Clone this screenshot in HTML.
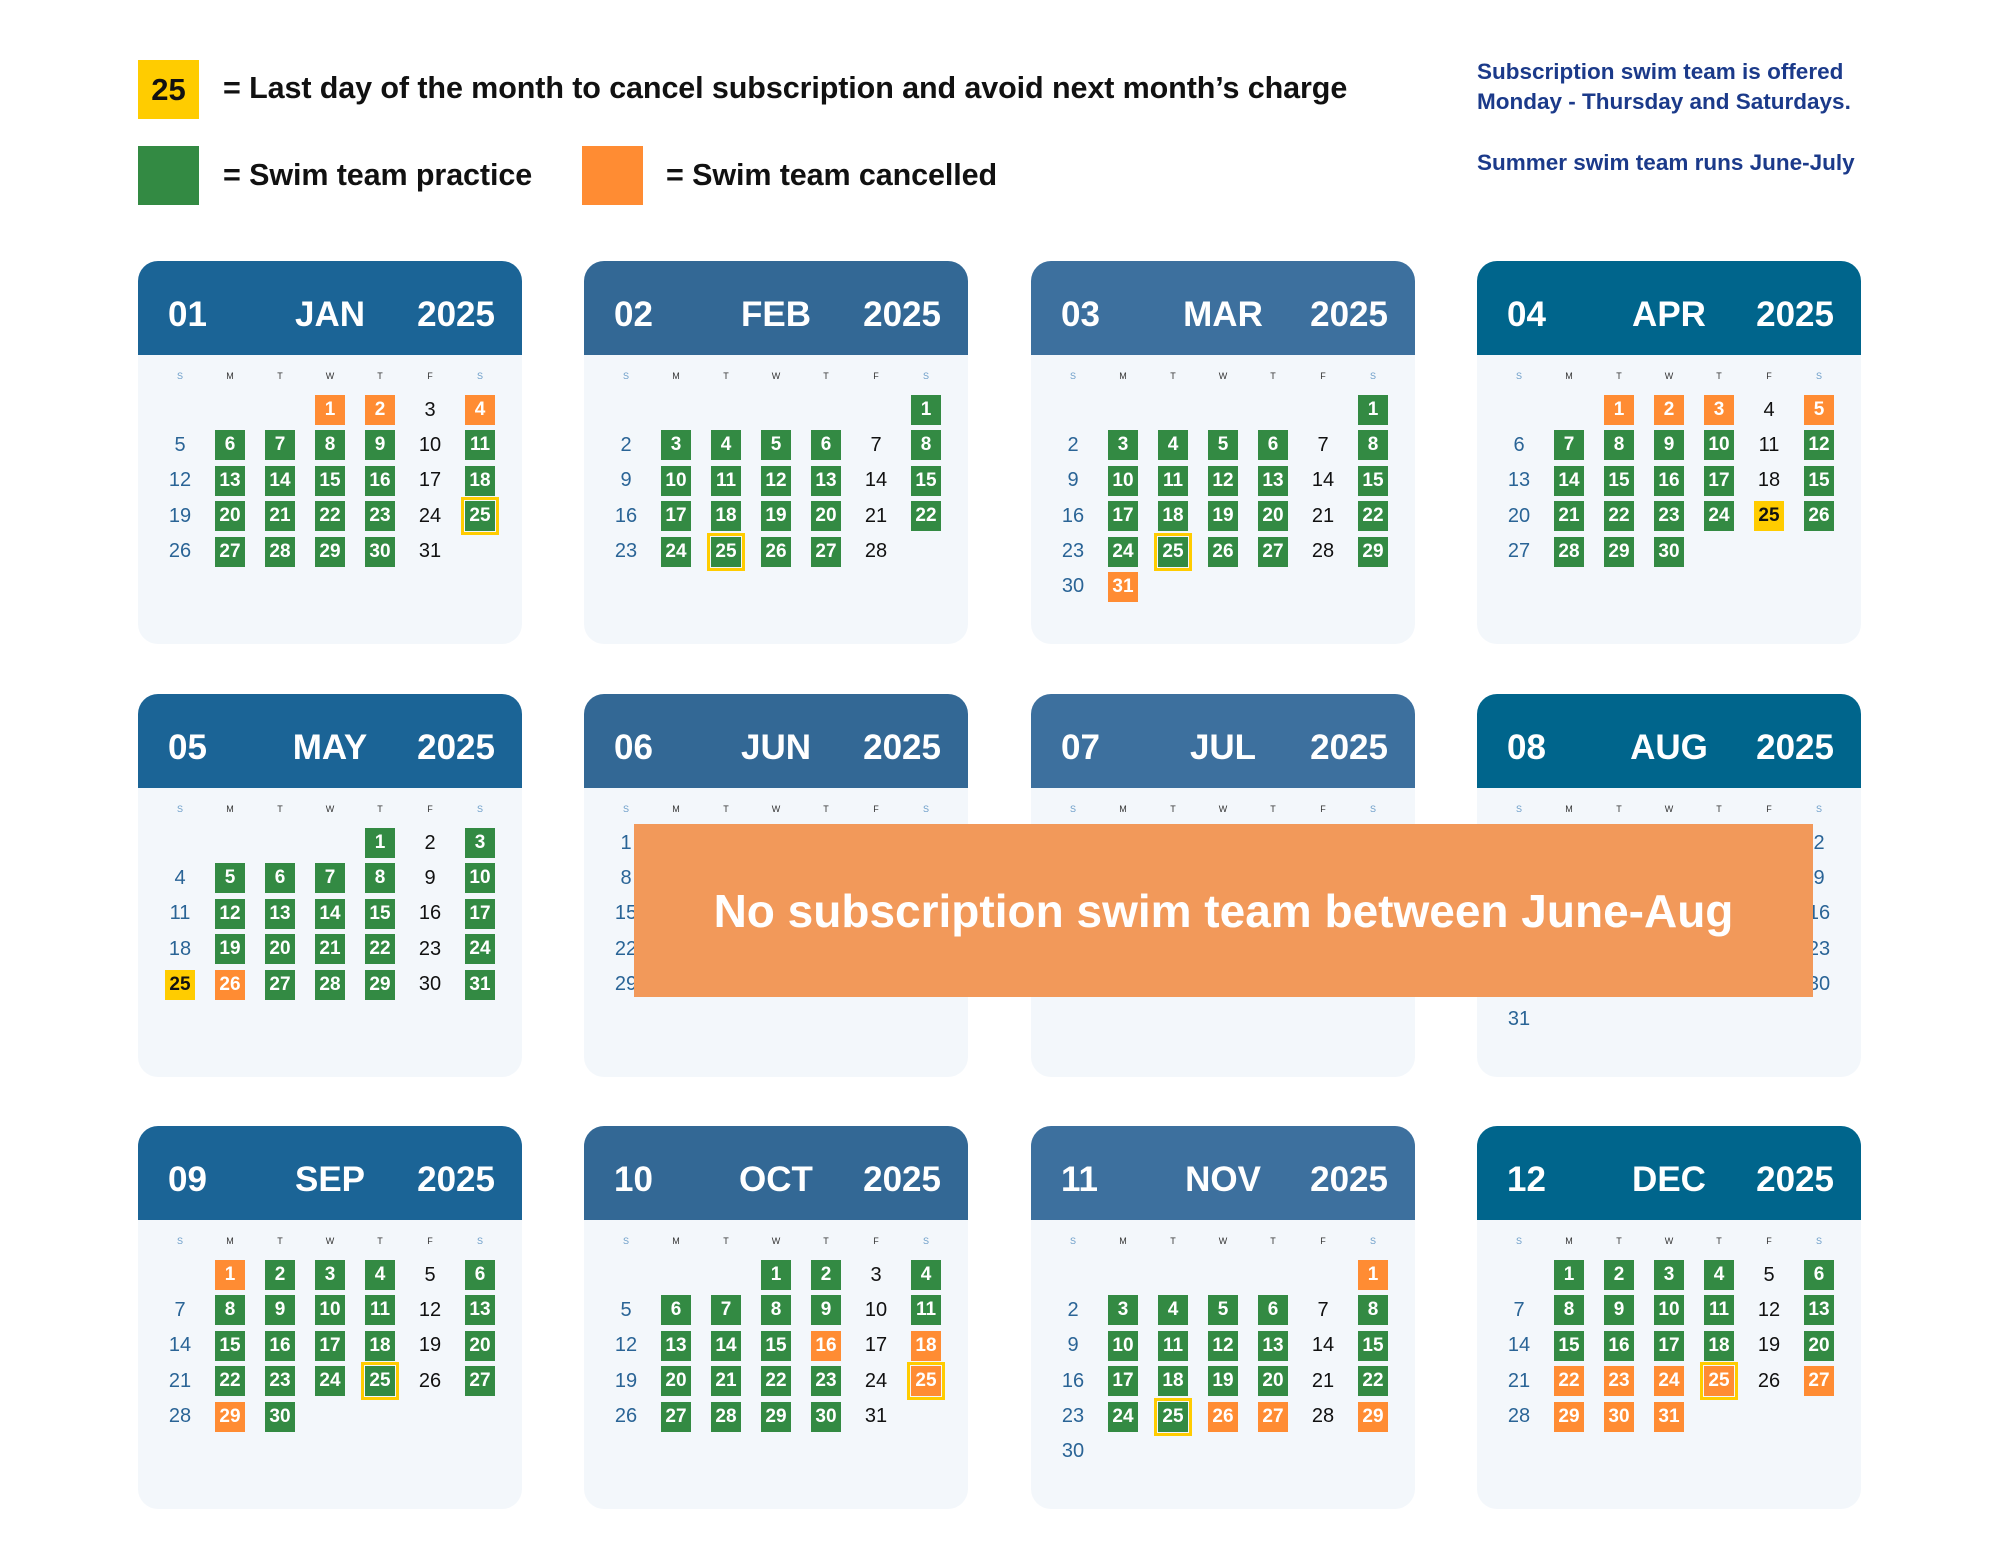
<!DOCTYPE html><html><head><meta charset="utf-8"><style>
body{margin:0;width:2000px;height:1545px;background:#fff;position:relative;font-family:"Liberation Sans",sans-serif;overflow:hidden}
.lg{position:absolute;font-weight:bold;font-size:30.5px;color:#111;letter-spacing:-0.1px}
.sq{position:absolute;width:61px;height:59px}
.rt{position:absolute;left:1477px;font-weight:bold;font-size:22.5px;color:#1b3a8a;white-space:nowrap}
.c{position:absolute;width:384px;height:383px;background:#f3f7fb;border-radius:20px;overflow:hidden}
.h{height:94px;color:#fff;font-weight:bold;font-size:35px;position:relative}
.h span{position:absolute;top:34px}
.h .a{left:30px}.h .m{left:0;width:384px;text-align:center}.h .y{right:27px}
.wd{position:absolute;top:110px;left:27px;display:grid;grid-template-columns:repeat(7,30px);column-gap:20px;font-size:9px;color:#333;text-align:center}
.wd i:first-child,.wd i:last-child{color:#6a9cc8}
.wd i{font-style:normal}
.d{position:absolute;top:134px;left:27px;display:grid;grid-template-columns:repeat(7,30px);grid-auto-rows:30px;column-gap:20px;row-gap:5.4px}
.d b{display:flex;align-items:center;justify-content:center;font-weight:normal;font-size:20px;color:#111}
.d b:nth-child(7n+1),.d b:nth-child(7n){color:#2a6496}
.d b.g{background:#338a43;color:#fff!important;font-weight:bold;font-size:19px}
.d b.o{background:#ff8c33;color:#fff!important;font-weight:bold;font-size:19px}
.d b.y{background:#ffcc00;color:#111!important;font-weight:bold;font-size:19px}
.d b.G{background:#338a43;color:#fff!important;font-weight:bold;font-size:19px;outline:3px solid #ffcc00;outline-offset:1px}
.d b.O{background:#ff8c33;color:#fff!important;font-weight:bold;font-size:19px;outline:3px solid #ffcc00;outline-offset:1px}
.c1 .h{background:#1b6496}.c2 .h{background:#336895}.c3 .h{background:#3d709e}.c4 .h{background:#00658c}
</style></head><body>
<div class="sq" style="left:138px;top:60px;background:#ffcc00;font-weight:bold;font-size:31px;display:flex;align-items:center;justify-content:center;color:#111">25</div>
<div class="lg" style="left:223px;top:71px">= Last day of the month to cancel subscription and avoid next month’s charge</div>
<div class="sq" style="left:138px;top:146px;background:#338a43"></div>
<div class="lg" style="left:223px;top:158px">= Swim team practice</div>
<div class="sq" style="left:582px;top:146px;background:#ff8c33"></div>
<div class="lg" style="left:666px;top:158px">= Swim team cancelled</div>
<div class="rt" style="top:59px">Subscription swim team is offered</div>
<div class="rt" style="top:89px">Monday - Thursday and Saturdays.</div>
<div class="rt" style="top:150px">Summer swim team runs June-July</div>

<div class="c c1" style="left:138px;top:261px"><div class="h"><span class="a">01</span><span class="m">JAN</span><span class="y">2025</span></div><div class="wd"><i>S</i><i>M</i><i>T</i><i>W</i><i>T</i><i>F</i><i>S</i></div><div class="d"><b></b><b></b><b></b><b class="o">1</b><b class="o">2</b><b>3</b><b class="o">4</b><b>5</b><b class="g">6</b><b class="g">7</b><b class="g">8</b><b class="g">9</b><b>10</b><b class="g">11</b><b>12</b><b class="g">13</b><b class="g">14</b><b class="g">15</b><b class="g">16</b><b>17</b><b class="g">18</b><b>19</b><b class="g">20</b><b class="g">21</b><b class="g">22</b><b class="g">23</b><b>24</b><b class="G">25</b><b>26</b><b class="g">27</b><b class="g">28</b><b class="g">29</b><b class="g">30</b><b>31</b></div></div>

<div class="c c2" style="left:584px;top:261px"><div class="h"><span class="a">02</span><span class="m">FEB</span><span class="y">2025</span></div><div class="wd"><i>S</i><i>M</i><i>T</i><i>W</i><i>T</i><i>F</i><i>S</i></div><div class="d"><b></b><b></b><b></b><b></b><b></b><b></b><b class="g">1</b><b>2</b><b class="g">3</b><b class="g">4</b><b class="g">5</b><b class="g">6</b><b>7</b><b class="g">8</b><b>9</b><b class="g">10</b><b class="g">11</b><b class="g">12</b><b class="g">13</b><b>14</b><b class="g">15</b><b>16</b><b class="g">17</b><b class="g">18</b><b class="g">19</b><b class="g">20</b><b>21</b><b class="g">22</b><b>23</b><b class="g">24</b><b class="G">25</b><b class="g">26</b><b class="g">27</b><b>28</b></div></div>

<div class="c c3" style="left:1031px;top:261px"><div class="h"><span class="a">03</span><span class="m">MAR</span><span class="y">2025</span></div><div class="wd"><i>S</i><i>M</i><i>T</i><i>W</i><i>T</i><i>F</i><i>S</i></div><div class="d"><b></b><b></b><b></b><b></b><b></b><b></b><b class="g">1</b><b>2</b><b class="g">3</b><b class="g">4</b><b class="g">5</b><b class="g">6</b><b>7</b><b class="g">8</b><b>9</b><b class="g">10</b><b class="g">11</b><b class="g">12</b><b class="g">13</b><b>14</b><b class="g">15</b><b>16</b><b class="g">17</b><b class="g">18</b><b class="g">19</b><b class="g">20</b><b>21</b><b class="g">22</b><b>23</b><b class="g">24</b><b class="G">25</b><b class="g">26</b><b class="g">27</b><b>28</b><b class="g">29</b><b>30</b><b class="o">31</b></div></div>

<div class="c c4" style="left:1477px;top:261px"><div class="h"><span class="a">04</span><span class="m">APR</span><span class="y">2025</span></div><div class="wd"><i>S</i><i>M</i><i>T</i><i>W</i><i>T</i><i>F</i><i>S</i></div><div class="d"><b></b><b></b><b class="o">1</b><b class="o">2</b><b class="o">3</b><b>4</b><b class="o">5</b><b>6</b><b class="g">7</b><b class="g">8</b><b class="g">9</b><b class="g">10</b><b>11</b><b class="g">12</b><b>13</b><b class="g">14</b><b class="g">15</b><b class="g">16</b><b class="g">17</b><b>18</b><b class="g">15</b><b>20</b><b class="g">21</b><b class="g">22</b><b class="g">23</b><b class="g">24</b><b class="y">25</b><b class="g">26</b><b>27</b><b class="g">28</b><b class="g">29</b><b class="g">30</b></div></div>

<div class="c c1" style="left:138px;top:694px"><div class="h"><span class="a">05</span><span class="m">MAY</span><span class="y">2025</span></div><div class="wd"><i>S</i><i>M</i><i>T</i><i>W</i><i>T</i><i>F</i><i>S</i></div><div class="d"><b></b><b></b><b></b><b></b><b class="g">1</b><b>2</b><b class="g">3</b><b>4</b><b class="g">5</b><b class="g">6</b><b class="g">7</b><b class="g">8</b><b>9</b><b class="g">10</b><b>11</b><b class="g">12</b><b class="g">13</b><b class="g">14</b><b class="g">15</b><b>16</b><b class="g">17</b><b>18</b><b class="g">19</b><b class="g">20</b><b class="g">21</b><b class="g">22</b><b>23</b><b class="g">24</b><b class="y">25</b><b class="o">26</b><b class="g">27</b><b class="g">28</b><b class="g">29</b><b>30</b><b class="g">31</b></div></div>

<div class="c c2" style="left:584px;top:694px"><div class="h"><span class="a">06</span><span class="m">JUN</span><span class="y">2025</span></div><div class="wd"><i>S</i><i>M</i><i>T</i><i>W</i><i>T</i><i>F</i><i>S</i></div><div class="d"><b>1</b><b>2</b><b>3</b><b>4</b><b>5</b><b>6</b><b>7</b><b>8</b><b>9</b><b>10</b><b>11</b><b>12</b><b>13</b><b>14</b><b>15</b><b>16</b><b>17</b><b>18</b><b>19</b><b>20</b><b>21</b><b>22</b><b>23</b><b>24</b><b>25</b><b>26</b><b>27</b><b>28</b><b>29</b><b>30</b></div></div>

<div class="c c3" style="left:1031px;top:694px"><div class="h"><span class="a">07</span><span class="m">JUL</span><span class="y">2025</span></div><div class="wd"><i>S</i><i>M</i><i>T</i><i>W</i><i>T</i><i>F</i><i>S</i></div><div class="d"><b></b><b></b><b>1</b><b>2</b><b>3</b><b>4</b><b>5</b><b>6</b><b>7</b><b>8</b><b>9</b><b>10</b><b>11</b><b>12</b><b>13</b><b>14</b><b>15</b><b>16</b><b>17</b><b>18</b><b>19</b><b>20</b><b>21</b><b>22</b><b>23</b><b>24</b><b>25</b><b>26</b><b>27</b><b>28</b><b>29</b><b>30</b><b>31</b></div></div>

<div class="c c4" style="left:1477px;top:694px"><div class="h"><span class="a">08</span><span class="m">AUG</span><span class="y">2025</span></div><div class="wd"><i>S</i><i>M</i><i>T</i><i>W</i><i>T</i><i>F</i><i>S</i></div><div class="d"><b></b><b></b><b></b><b></b><b></b><b>1</b><b>2</b><b>3</b><b>4</b><b>5</b><b>6</b><b>7</b><b>8</b><b>9</b><b>10</b><b>11</b><b>12</b><b>13</b><b>14</b><b>15</b><b>16</b><b>17</b><b>18</b><b>19</b><b>20</b><b>21</b><b>22</b><b>23</b><b>24</b><b>25</b><b>26</b><b>27</b><b>28</b><b>29</b><b>30</b><b>31</b></div></div>

<div class="c c1" style="left:138px;top:1126px"><div class="h"><span class="a">09</span><span class="m">SEP</span><span class="y">2025</span></div><div class="wd"><i>S</i><i>M</i><i>T</i><i>W</i><i>T</i><i>F</i><i>S</i></div><div class="d"><b></b><b class="o">1</b><b class="g">2</b><b class="g">3</b><b class="g">4</b><b>5</b><b class="g">6</b><b>7</b><b class="g">8</b><b class="g">9</b><b class="g">10</b><b class="g">11</b><b>12</b><b class="g">13</b><b>14</b><b class="g">15</b><b class="g">16</b><b class="g">17</b><b class="g">18</b><b>19</b><b class="g">20</b><b>21</b><b class="g">22</b><b class="g">23</b><b class="g">24</b><b class="G">25</b><b>26</b><b class="g">27</b><b>28</b><b class="o">29</b><b class="g">30</b></div></div>

<div class="c c2" style="left:584px;top:1126px"><div class="h"><span class="a">10</span><span class="m">OCT</span><span class="y">2025</span></div><div class="wd"><i>S</i><i>M</i><i>T</i><i>W</i><i>T</i><i>F</i><i>S</i></div><div class="d"><b></b><b></b><b></b><b class="g">1</b><b class="g">2</b><b>3</b><b class="g">4</b><b>5</b><b class="g">6</b><b class="g">7</b><b class="g">8</b><b class="g">9</b><b>10</b><b class="g">11</b><b>12</b><b class="g">13</b><b class="g">14</b><b class="g">15</b><b class="o">16</b><b>17</b><b class="o">18</b><b>19</b><b class="g">20</b><b class="g">21</b><b class="g">22</b><b class="g">23</b><b>24</b><b class="O">25</b><b>26</b><b class="g">27</b><b class="g">28</b><b class="g">29</b><b class="g">30</b><b>31</b></div></div>

<div class="c c3" style="left:1031px;top:1126px"><div class="h"><span class="a">11</span><span class="m">NOV</span><span class="y">2025</span></div><div class="wd"><i>S</i><i>M</i><i>T</i><i>W</i><i>T</i><i>F</i><i>S</i></div><div class="d"><b></b><b></b><b></b><b></b><b></b><b></b><b class="o">1</b><b>2</b><b class="g">3</b><b class="g">4</b><b class="g">5</b><b class="g">6</b><b>7</b><b class="g">8</b><b>9</b><b class="g">10</b><b class="g">11</b><b class="g">12</b><b class="g">13</b><b>14</b><b class="g">15</b><b>16</b><b class="g">17</b><b class="g">18</b><b class="g">19</b><b class="g">20</b><b>21</b><b class="g">22</b><b>23</b><b class="g">24</b><b class="G">25</b><b class="o">26</b><b class="o">27</b><b>28</b><b class="o">29</b><b>30</b></div></div>

<div class="c c4" style="left:1477px;top:1126px"><div class="h"><span class="a">12</span><span class="m">DEC</span><span class="y">2025</span></div><div class="wd"><i>S</i><i>M</i><i>T</i><i>W</i><i>T</i><i>F</i><i>S</i></div><div class="d"><b></b><b class="g">1</b><b class="g">2</b><b class="g">3</b><b class="g">4</b><b>5</b><b class="g">6</b><b>7</b><b class="g">8</b><b class="g">9</b><b class="g">10</b><b class="g">11</b><b>12</b><b class="g">13</b><b>14</b><b class="g">15</b><b class="g">16</b><b class="g">17</b><b class="g">18</b><b>19</b><b class="g">20</b><b>21</b><b class="o">22</b><b class="o">23</b><b class="o">24</b><b class="O">25</b><b>26</b><b class="o">27</b><b>28</b><b class="o">29</b><b class="o">30</b><b class="o">31</b></div></div>

<div style="position:absolute;left:634px;top:824px;width:1179px;height:173px;background:#f2995a;color:#fff;font-weight:bold;font-size:46px;display:flex;align-items:center;justify-content:center">No subscription swim team between June-Aug</div>
</body></html>
